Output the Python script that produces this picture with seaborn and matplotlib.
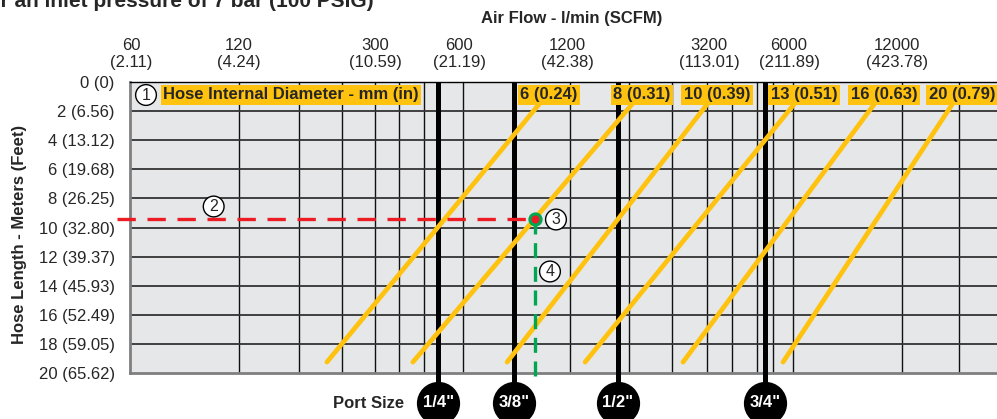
import numpy as np
import pandas as pd
import matplotlib
matplotlib.use("Agg")
import matplotlib.pyplot as plt
import seaborn as sns

sns.set_theme(style="white")
plt.rcParams["font.family"] = ["Liberation Sans", "DejaVu Sans"]

# ── Values ─────────────────────────────────────────────────────────────────
flow_lpm = [60, 120, 300, 600, 1200, 3200, 6000, 12000]
flow_scfm = ["2.11", "4.24", "10.59", "21.19", "42.38", "113.01", "211.89", "423.78"]

length_m = [0, 2, 4, 6, 8, 10, 12, 14, 16, 18, 20]
length_ft = ["0", "6.56", "13.12", "19.68", "26.25", "32.80", "39.37",
             "45.93", "52.49", "59.05", "65.62"]

# vertical rulings of the chart (l/min)
grid_flow = [120, 180, 240, 300, 365, 450, 615, 1225, 1840, 2480,
             3150, 3830, 4670, 5290, 6155, 12390, 17870]

# hose internal diameter lines: flow at the long end and at the short end
hose_mm = ["6", "8", "10", "13", "16", "20"]
hose_in = ["0.24", "0.31", "0.39", "0.51", "0.63", "0.79"]
hose_flow_long = [217, 410, 817, 1360, 2674, 5725]
hose_flow_short = [1009, 1893, 3178, 6236, 10420, 17190]
hose_len = [19.25, 1.45]

# port size lines
port_size = ['1/4"', '3/8"', '1/2"', '3/4"']
port_flow = [505, 854, 1707, 4970]

# worked example: 9.5 m of 8 mm hose -> ~980 l/min
example_len = 9.45
example_flow = 977
example_start_flow = 55

# ── Colours ─────────────────────────────────────────────────────────────────
yellow = "#ffc20e"
panel = "#e6e7e8"
red = "#ed1c24"
green = "#00a651"

# ── Piecewise log scale matching the hand-spaced flow axis ──────────────────
scale_flow = [30, 60, 120, 300, 600, 1200, 3200, 6000, 12000, 24000]
scale_pos = [23, 131, 239, 375, 459, 567, 709, 789, 897, 1005]
scale_log = np.log10(scale_flow)


def fwd(x):
    return np.interp(np.log10(np.maximum(x, 1e-6)), scale_log, scale_pos)


def inv(p):
    return 10 ** np.interp(p, scale_pos, scale_log)


W, H = 997, 419
fig = plt.figure(figsize=(W / 100, H / 100), dpi=100)
ax = fig.add_axes([130 / W, 46 / H, 867 / W, 291 / H])
ax.set_facecolor(panel)
ax.set_xscale("function", functions=(fwd, inv))
ax.set_xlim(inv(130), inv(997))
ax.set_ylim(20, 0)

# grid
ax.vlines(grid_flow, 0, 20, color="#111111", lw=1.0, zorder=1)
ax.hlines(length_m[1:-1], inv(130), inv(1010), color="#333333", lw=1.3, zorder=1)

# port size lines and badges
port_badge_len = 22.06
ax.vlines(port_flow, 0, port_badge_len, color="black", lw=3.6, zorder=3, clip_on=False)
sns.scatterplot(x=port_flow, y=[port_badge_len] * len(port_flow), s=830, color="black",
                edgecolor="black", ax=ax, zorder=8, clip_on=False, legend=False)
for f, lab in zip(port_flow, port_size):
    ax.text(f, port_badge_len, lab, color="white", fontsize=12, fontweight="bold",
            ha="center", va="center", zorder=9, clip_on=False)

# hose lines
hose_df = pd.DataFrame({
    "hose": np.repeat(hose_mm, 2),
    "flow": np.ravel(np.column_stack([hose_flow_long, hose_flow_short])),
    "length": hose_len * len(hose_mm),
})
sns.lineplot(data=hose_df, x="flow", y="length", units="hose", estimator=None,
             color=yellow, lw=3.4, sort=False, ax=ax, zorder=4)

label_box = dict(boxstyle="square,pad=0.15", fc=yellow, ec="none")
for mm, inch, f in zip(hose_mm, hose_in, hose_flow_short):
    ax.annotate(f"{mm} ({inch})", xy=(f, hose_len[1]), xytext=(9, 8.5),
                textcoords="offset pixels", ha="center", va="center",
                fontsize=12, fontweight="bold", bbox=label_box, zorder=7)
ax.text(33 / 867, 1 - 12.5 / 291, "Hose Internal Diameter - mm (in)", transform=ax.transAxes,
        ha="left", va="center", fontsize=12, fontweight="bold", bbox=label_box, zorder=7)

# worked example
ax.plot([example_start_flow, example_flow], [example_len, example_len], color=red, lw=2.4,
        ls=(0, (5.5, 3.5)), zorder=6, clip_on=False)
ax.plot([example_flow, example_flow], [example_len, 20.6], color=green, lw=2.4,
        ls=(0, (4.5, 2.6)), zorder=6, clip_on=False)
ax.scatter([example_flow], [example_len], s=105, color=green, zorder=8, linewidths=0)
ax.scatter([example_flow], [example_len], s=33, color=red, zorder=9, linewidths=0)


def circled(num, xy, offset, coords="data"):
    ax.annotate(num, xy=xy, xycoords=coords, xytext=offset, textcoords="offset pixels",
                ha="center", va="center", fontsize=11.5,
                bbox=dict(boxstyle="circle,pad=0.18", fc="white", ec="black", lw=1),
                zorder=10, annotation_clip=False)


circled("1", (16 / 867, 1 - 13 / 291), (0, 0), coords="axes fraction")
circled("2", (102, example_len), (0, 13))
circled("3", (example_flow, example_len), (21, 0))
circled("4", (example_flow, example_len), (15, -52))

# axes decoration
ax.set_xlabel("")
ax.set_ylabel("")
ax.xaxis.set_ticks_position("top")
ax.set_xticks(flow_lpm, labels=[f"{f}\n({c})" for f, c in zip(flow_lpm, flow_scfm)])
ax.set_yticks(length_m, labels=[f"{m} ({ft})" for m, ft in zip(length_m, length_ft)])
ax.tick_params(axis="x", length=0, pad=9, labelsize=12, top=True, labeltop=True,
               bottom=False, labelbottom=False)
ax.tick_params(axis="y", length=0, pad=11, labelsize=12)
for lab in ax.get_xticklabels():
    lab.set_linespacing(1.15)

ax.spines["left"].set(color="#7f7f7f", lw=2)
ax.spines["bottom"].set(color="#7f7f7f", lw=2)
ax.spines["top"].set(color="black", lw=1)
ax.spines["right"].set_visible(False)

fig.text(-25 / W, 1 - 7 / H, "For an inlet pressure of 7 bar (100 PSIG)", fontsize=15,
         fontweight="bold", ha="left", va="baseline")
fig.text(572 / W, 1 - 18 / H, "Air Flow - l/min (SCFM)", fontsize=12, fontweight="bold",
         ha="center", va="center")
fig.text(20 / W, 1 - 234 / H, "Hose Length - Meters (Feet)", fontsize=12, fontweight="bold",
         rotation=90, ha="center", va="center")
fig.text(369 / W, 1 - 403 / H, "Port Size", fontsize=12, fontweight="bold",
         ha="center", va="center")

fig.savefig("out.png", dpi=100)
